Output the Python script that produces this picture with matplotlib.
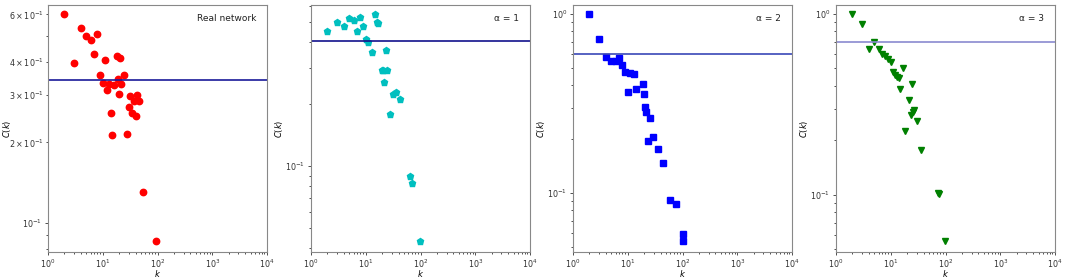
import matplotlib
matplotlib.use("Agg")
import matplotlib.pyplot as plt

# real network
k_real = [2, 3, 4, 5, 6, 8, 7, 9, 10, 11, 12, 13, 14, 15, 16, 18, 19, 20, 21, 22,
          24, 28, 30, 32, 34, 38, 40, 42, 46, 54, 95]
c_real = [0.60, 0.394, 0.533, 0.499, 0.483, 0.505, 0.426, 0.356, 0.334, 0.405, 0.313,
          0.330, 0.257, 0.213, 0.327, 0.421, 0.343, 0.302, 0.411, 0.331, 0.357, 0.215,
          0.270, 0.298, 0.257, 0.285, 0.251, 0.299, 0.285, 0.130, 0.0855]
avg_real = 0.34

# alpha = 1
k_a1 = [2, 3, 4, 5, 6, 7, 8, 9, 10, 11, 13, 15, 16, 17, 20, 22, 23, 21, 24, 28, 32,
        35, 42, 65, 71, 97]
c_a1 = [0.452, 0.50, 0.478, 0.523, 0.513, 0.452, 0.529, 0.476, 0.412, 0.40, 0.356,
        0.545, 0.50, 0.494, 0.294, 0.255, 0.364, 0.294, 0.294, 0.178, 0.225, 0.229,
        0.211, 0.0898, 0.0824, 0.0431]
avg_a1 = 0.405

# alpha = 2
k_a2 = [2, 3, 4, 5, 6, 7, 8, 9, 11, 13, 10, 14, 19, 20, 20.6, 22, 26, 29, 23, 35, 44,
        59, 77, 100, 103]
c_a2 = [1.0, 0.723, 0.574, 0.549, 0.549, 0.57, 0.521, 0.473, 0.467, 0.461, 0.367,
        0.38, 0.407, 0.357, 0.303, 0.282, 0.261, 0.206, 0.195, 0.176, 0.147, 0.091,
        0.0872, 0.0593, 0.054]
avg_a2 = 0.596

# alpha = 3
k_a3 = [2, 3, 5, 4, 6, 7, 8, 9, 10, 11, 12, 13, 14, 15, 17, 18, 22, 24, 23.5, 25.4,
        27, 30, 35, 73, 75, 99]
c_a3 = [1.0, 0.885, 0.70, 0.643, 0.643, 0.604, 0.586, 0.564, 0.543, 0.48, 0.46,
        0.451, 0.441, 0.384, 0.503, 0.225, 0.334, 0.41, 0.277, 0.286, 0.295, 0.256,
        0.177, 0.103, 0.101, 0.0557]
avg_a3 = 0.70

panels = [
    (k_real, c_real, avg_real, "Real network", "ro", "#1a1a9a", (0.078, 0.65), 4.6),
    (k_a1, c_a1, avg_a1, "\u03b1 = 1", "cp", "#12128c", (0.0383, 0.605), 4.8),
    (k_a2, c_a2, avg_a2, "\u03b1 = 2", "bs", "#3a48b8", (0.0468, 1.123), 4.2),
    (k_a3, c_a3, avg_a3, "\u03b1 = 3", "gv", "#8a8ad0", (0.0484, 1.12), 4.8),
]

fig = plt.figure(figsize=(10.65, 2.78), dpi=100)
lefts = [48, 311, 573, 836]

for i, (left, (k, c, avg, label, fmt, lcol, ylim, ms)) in enumerate(zip(lefts, panels)):
    ax = fig.add_axes([left / 1065, 26 / 278, 219 / 1065, 247 / 278])
    ax.plot(k, c, fmt, markersize=ms)
    ax.axhline(avg, color=lcol, linewidth=1.2)
    ax.set_xscale("log")
    ax.set_yscale("log")
    ax.set_xlim(1, 1e4)
    ax.set_ylim(*ylim)
    ax.set_xlabel(r"$k$", fontsize=6, labelpad=-1.5)
    ax.set_ylabel(r"$C(k)$", fontsize=6, labelpad=0)
    if i == 0:
        # keep the label inside the figure edge
        ax.yaxis.set_label_coords(-0.16, 0.5)
    ax.tick_params(which="both", labelsize=5.8, colors="#333333", length=2.5,
                   width=0.6, pad=1.5)
    ax.tick_params(which="minor", length=1.5)
    for s in ax.spines.values():
        s.set_color("#888888")
        s.set_linewidth(0.8)
    ax.text(0.95, 0.965, label, transform=ax.transAxes, ha="right", va="top",
            fontsize=6.5, color="#222222")

fig.savefig("out.png", dpi=100)
